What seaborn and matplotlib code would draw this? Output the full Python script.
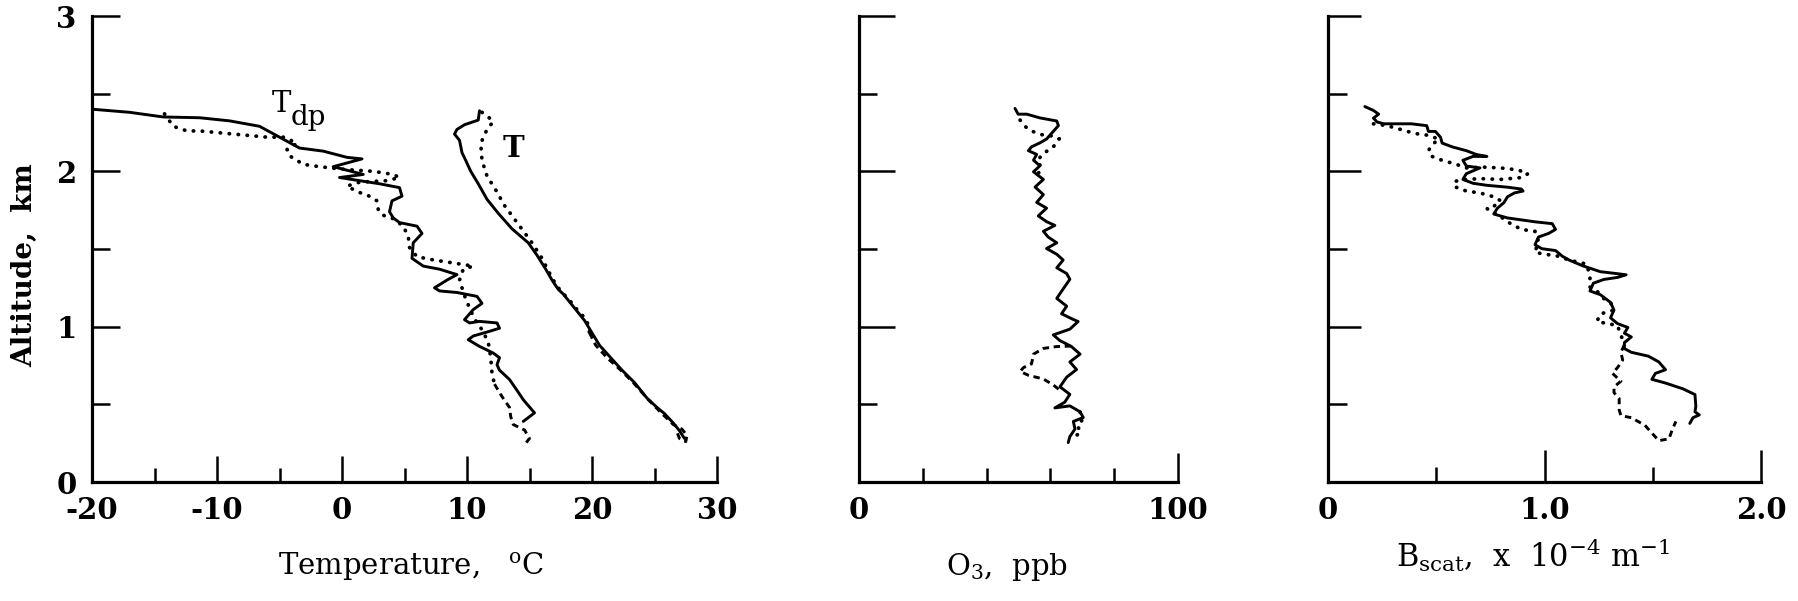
import numpy as np
import pandas as pd
import matplotlib
matplotlib.use("Agg")
import matplotlib.pyplot as plt
import seaborn as sns

# ---------------- data ----------------
# Panel 1: temperature profiles (value, altitude km)
t_solid_val = [11.0, 10.9, 9.8, 9.2, 9.0, 9.4, 9.6, 9.9, 10.3, 10.9, 11.6, 12.5, 13.6, 14.9, 15.6,
               16.3, 16.8, 17.3, 17.7, 18.2, 18.8, 19.4, 20.0, 20.6, 21.5, 22.4, 23.4, 24.4, 25.2,
               25.8, 26.5, 27.0, 27.4]
t_solid_alt = [2.39, 2.33, 2.30, 2.27, 2.24, 2.20, 2.12, 2.07, 2.00, 1.92, 1.82, 1.73, 1.63, 1.54, 1.46,
               1.37, 1.30, 1.24, 1.21, 1.16, 1.10, 1.04, 0.96, 0.88, 0.80, 0.72, 0.64, 0.54, 0.48,
               0.44, 0.38, 0.33, 0.28]
t_dot_val = [11.2, 11.7, 12.1, 11.6, 11.1, 11.2, 11.6, 12.3, 13.0, 14.1, 15.2, 16.0, 16.5, 16.9,
             17.4, 18.3, 18.9, 19.5, 19.7, 19.8]
t_dot_alt = [2.38, 2.35, 2.32, 2.27, 2.18, 2.07, 1.97, 1.88, 1.78, 1.66, 1.54, 1.44, 1.36, 1.30,
             1.24, 1.16, 1.10, 1.05, 1.01, 0.96]
t_dash_val = [19.8, 20.3, 21.2, 22.3, 23.3, 24.5, 25.6, 26.5, 27.2, 27.6, 27.5, 27.0, 26.8]
t_dash_alt = [0.96, 0.88, 0.80, 0.72, 0.64, 0.53, 0.44, 0.37, 0.34, 0.30, 0.26, 0.28, 0.32]

tdp_solid_val = [-20.0, -17.0, -14.3, -11.4, -9.0, -6.6, -5.0, -3.4, -1.5, 0.4, 1.6, -0.7, 1.7, -0.2,
                 1.4, 3.0, 4.6, 4.8, 4.0, 3.8, 4.1, 4.6, 6.0, 6.4, 5.7, 5.6, 6.5, 7.8, 9.2, 8.4, 7.4,
                 7.8, 9.2, 10.8, 11.2, 10.5, 9.8, 10.2, 11.0, 12.4, 12.6, 11.8, 10.5, 10.1, 11.0,
                 12.1, 12.6, 12.4, 12.6, 13.4, 14.0, 14.5, 15.4, 14.5]
tdp_solid_alt = [2.40, 2.38, 2.35, 2.345, 2.325, 2.29, 2.22, 2.15, 2.13, 2.09, 2.08, 2.03, 1.98, 1.96,
                 1.94, 1.92, 1.895, 1.84, 1.81, 1.74, 1.70, 1.67, 1.647, 1.60, 1.54, 1.44, 1.39,
                 1.37, 1.335, 1.30, 1.25, 1.23, 1.22, 1.195, 1.15, 1.11, 1.045, 1.024, 1.034,
                 1.024, 0.99, 0.97, 0.94, 0.916, 0.873, 0.83, 0.80, 0.755, 0.72, 0.66, 0.59, 0.53,
                 0.445, 0.39]
tdp_dot_val = [-14.2, -13.5, -12.4, -11.4, -8.7, -6.0, -4.6, -3.6, -4.4, -4.2, -3.1, -1.8, -0.7, 0.6,
               2.5, 4.1, 4.6, 3.6, 1.4, 0.4, 1.2, 2.2, 2.8, 2.9, 3.2, 4.1, 4.9, 5.3, 5.4, 6.0, 7.3,
               8.9, 10.5, 9.7, 9.4, 9.8, 10.2, 10.6, 11.2, 11.7, 11.9, 12.0, 12.2]
tdp_dot_alt = [2.37, 2.29, 2.26, 2.26, 2.24, 2.22, 2.22, 2.18, 2.14, 2.10, 2.045, 2.03, 2.02, 2.01,
               2.00, 1.98, 1.96, 1.94, 1.93, 1.905, 1.87, 1.84, 1.81, 1.755, 1.72, 1.695, 1.647,
               1.58, 1.51, 1.45, 1.43, 1.41, 1.39, 1.37, 1.30, 1.20, 1.12, 1.05, 0.98, 0.90, 0.80,
               0.70, 0.63]
tdp_dash_val = [12.2, 12.8, 13.4, 13.5, 13.7, 14.6, 15.0, 14.5]
tdp_dash_alt = [0.63, 0.55, 0.48, 0.42, 0.37, 0.335, 0.28, 0.23]

# Panel 2: ozone (ppb, altitude km)
o3_solid_val = [48.9, 49.9, 52.6, 56.7, 62.0, 62.5, 60.9, 58.8, 56.7, 54.1, 53.1, 55.7, 54.7, 56.7,
                54.7, 57.8, 55.2, 57.8, 55.7, 58.8, 56.2, 58.8, 61.4, 57.8, 59.3, 62.0, 58.8, 62.0,
                64.0, 62.0, 65.1, 66.1, 64.0, 62.0, 65.1, 63.5, 67.2, 68.7, 66.1, 60.9, 63.0, 66.6,
                69.3, 66.1, 68.2, 65.1, 63.0, 66.1, 64.5, 61.4, 66.1, 69.3, 70.3, 67.2, 67.7, 66.1,
                65.6]
o3_solid_alt = [2.405, 2.368, 2.368, 2.344, 2.324, 2.294, 2.257, 2.208, 2.183, 2.158, 2.133, 2.109,
                2.072, 2.035, 1.997, 1.948, 1.899, 1.850, 1.800, 1.763, 1.713, 1.676, 1.652, 1.614,
                1.577, 1.540, 1.503, 1.466, 1.429, 1.379, 1.342, 1.305, 1.243, 1.182, 1.132, 1.083,
                1.046, 1.033, 0.984, 0.947, 0.910, 0.872, 0.823, 0.773, 0.724, 0.675, 0.613, 0.564,
                0.514, 0.477, 0.49, 0.452, 0.415, 0.390, 0.341, 0.292, 0.254]
o3_dot_val = [50.5, 52.0, 54.0, 57.5, 60.0, 62.8, 61.0, 57.5, 56.0, 57.2, 56.0]
o3_dot_alt = [2.33, 2.29, 2.26, 2.235, 2.23, 2.21, 2.16, 2.11, 2.07, 2.02, 1.98]
o3_dash_val = [66.5, 62.0, 57.8, 54.7, 54.1, 51.6, 50.5, 53.1, 57.8, 60.9, 63.0]
o3_dash_alt = [0.875, 0.872, 0.86, 0.823, 0.761, 0.737, 0.712, 0.687, 0.663, 0.625, 0.59]
o3_dot2_val = [69.3, 70.0, 68.5, 69.5, 67.5]
o3_dot2_alt = [0.45, 0.40, 0.36, 0.32, 0.29]

# Panel 3: scattering coefficient (x 1e-4 m^-1, altitude km)
b_solid_val = [0.170, 0.210, 0.234, 0.210, 0.226, 0.258, 0.321, 0.385, 0.456, 0.464, 0.496, 0.520,
               0.527, 0.575, 0.639, 0.686, 0.734, 0.670, 0.623, 0.639, 0.702, 0.639, 0.623, 0.670,
               0.734, 0.829, 0.893, 0.901, 0.861, 0.829, 0.813, 0.782, 0.766, 0.829, 0.956, 1.036,
               1.051, 1.020, 0.972, 0.956, 0.988, 1.051, 1.083, 1.115, 1.178, 1.258, 1.337, 1.377,
               1.337, 1.274, 1.226, 1.210, 1.258, 1.305, 1.321, 1.305, 1.337, 1.385, 1.369, 1.401,
               1.369, 1.369, 1.401, 1.480, 1.528, 1.559, 1.512, 1.496, 1.559, 1.639, 1.695, 1.699,
               1.695, 1.715, 1.686, 1.671]
b_solid_alt = [2.417, 2.392, 2.368, 2.343, 2.318, 2.306, 2.306, 2.306, 2.294, 2.257, 2.257, 2.219,
               2.182, 2.157, 2.133, 2.108, 2.096, 2.096, 2.071, 2.034, 2.022, 1.985, 1.948, 1.923,
               1.910, 1.898, 1.886, 1.873, 1.861, 1.836, 1.799, 1.762, 1.725, 1.700, 1.675, 1.663,
               1.626, 1.601, 1.577, 1.527, 1.502, 1.490, 1.453, 1.428, 1.391, 1.354, 1.341, 1.334,
               1.317, 1.304, 1.280, 1.230, 1.206, 1.156, 1.107, 1.057, 1.020, 0.995, 0.958, 0.934,
               0.897, 0.859, 0.835, 0.810, 0.773, 0.723, 0.699, 0.661, 0.637, 0.600, 0.563, 0.488,
               0.452, 0.432, 0.414, 0.377]
b_dot_val = [0.210, 0.273, 0.337, 0.400, 0.464, 0.511, 0.480, 0.464, 0.480, 0.527, 0.591, 0.639,
             0.718, 0.797, 0.877, 0.924, 0.893, 0.797, 0.702, 0.639, 0.583, 0.591, 0.639, 0.702,
             0.766, 0.797, 0.766, 0.734, 0.750, 0.782, 0.829, 0.893, 0.956, 0.972, 0.956, 1.004,
             1.067, 1.115, 1.194, 1.210, 1.210, 1.242, 1.274, 1.305, 1.321, 1.258, 1.242, 1.290,
             1.337, 1.369]
b_dot_alt = [2.306, 2.294, 2.269, 2.244, 2.232, 2.207, 2.170, 2.133, 2.096, 2.071, 2.046, 2.022,
             2.027, 2.022, 2.009, 1.985, 1.960, 1.948, 1.953, 1.948, 1.935, 1.898, 1.873, 1.861,
             1.836, 1.811, 1.775, 1.762, 1.737, 1.725, 1.675, 1.626, 1.614, 1.552, 1.478, 1.466,
             1.453, 1.428, 1.403, 1.329, 1.255, 1.230, 1.181, 1.156, 1.107, 1.082, 1.033, 1.020,
             1.008, 0.884]
b_dash_val = [1.369, 1.353, 1.361, 1.337, 1.314, 1.353, 1.321, 1.321, 1.345, 1.345, 1.353, 1.401,
              1.464, 1.496, 1.528, 1.575, 1.591, 1.607]
b_dash_alt = [0.884, 0.835, 0.785, 0.736, 0.699, 0.649, 0.612, 0.575, 0.538, 0.464, 0.427, 0.414,
              0.365, 0.315, 0.266, 0.278, 0.340, 0.390]

temp_ticks = [-20, -10, 0, 10, 20, 30]
o3_ticks = [0, 100]
b_ticks = [0, 1.0, 2.0]
b_tick_labels = ["0", "1.0", "2.0"]
alt_ticks = [0, 1, 2, 3]

# ---------------- style ----------------
sns.set_style("ticks")
plt.rcParams["font.family"] = ["DejaVu Serif"]
plt.rcParams["mathtext.fontset"] = "dejavuserif"
for k in ("text.color", "axes.labelcolor", "xtick.color", "ytick.color", "axes.edgecolor"):
    plt.rcParams[k] = "black"

W, H = 1799, 601
fig = plt.figure(figsize=(W / 100, H / 100), dpi=100)
fig.patch.set_facecolor("white")

def fx(px):
    return px / W

def fy(py):
    return (H - py) / H

top_px, bot_px = 16, 482
panels = [(92, 717), (859, 1178), (1328, 1761)]
axes = []
for (l, r) in panels:
    ax = fig.add_axes([fx(l), fy(bot_px), fx(r) - fx(l), fy(top_px) - fy(bot_px)])
    ax.set_facecolor("white")
    axes.append(ax)

DOT = dict(linestyle=(0, (0.1, 2.3)), linewidth=2.7, dash_capstyle="round")
DASH = dict(linestyle=(0, (2.2, 1.6)), linewidth=2.1)
SOLID = dict(linestyle="-", linewidth=2.1)

def line(ax, x, y, st):
    df = pd.DataFrame({"v": x, "alt": y})
    sns.lineplot(data=df, x="v", y="alt", ax=ax, sort=False, estimator=None,
                 color="black", legend=False, **st)

ax1, ax2, ax3 = axes
line(ax1, t_solid_val, t_solid_alt, SOLID)
line(ax1, t_dot_val, t_dot_alt, DOT)
line(ax1, t_dash_val, t_dash_alt, DASH)
line(ax1, tdp_solid_val, tdp_solid_alt, SOLID)
line(ax1, tdp_dot_val, tdp_dot_alt, DOT)
line(ax1, tdp_dash_val, tdp_dash_alt, DASH)

line(ax2, o3_solid_val, o3_solid_alt, SOLID)
line(ax2, o3_dot_val, o3_dot_alt, DOT)
line(ax2, o3_dash_val, o3_dash_alt, DASH)
line(ax2, o3_dot2_val, o3_dot2_alt, DOT)

line(ax3, b_solid_val, b_solid_alt, SOLID)
line(ax3, b_dot_val, b_dot_alt, DOT)
line(ax3, b_dash_val, b_dash_alt, DASH)

tick_font = dict(fontsize=21, fontweight="bold", family="DejaVu Serif", color="black")
LABEL_FS = 21

for ax in axes:
    sns.despine(ax=ax)
    for s in ("left", "bottom"):
        ax.spines[s].set_linewidth(2.3)
        ax.spines[s].set_color("black")
    ax.set_ylim(0, 3)
    ax.set_yticks(alt_ticks)
    ax.set_yticks([0.5, 1.5, 2.5], minor=True)
    ax.set_xlabel("")
    ax.set_ylabel("")

# panel 1
ax1.set_xlim(-20, 30)
ax1.set_xticks(temp_ticks)
ax1.set_xticks([-15, -5, 5, 15, 25], minor=True)
ax1.set_xticklabels([str(t) for t in temp_ticks], **tick_font)
ax1.set_yticklabels([str(t) for t in alt_ticks], **tick_font)
ax1.tick_params(axis="x", which="major", direction="in", length=19, width=1.8, pad=10)
ax1.tick_params(axis="x", which="minor", direction="in", length=10, width=1.8)
ax1.tick_params(axis="y", which="major", direction="in", length=20, width=1.8, pad=11)
ax1.tick_params(axis="y", which="minor", direction="in", length=13, width=1.8)

# panel 2
ax2.set_xlim(0, 100)
ax2.set_xticks(o3_ticks)
ax2.set_xticks([20, 40, 60, 80], minor=True)
ax2.set_xticklabels([str(t) for t in o3_ticks], **tick_font)
ax2.tick_params(axis="x", which="major", direction="in", length=21, width=1.8, pad=10)
ax2.tick_params(axis="x", which="minor", direction="in", length=10, width=1.8)
ax2.tick_params(axis="y", which="major", direction="in", length=26, width=1.8, labelleft=False)
ax2.tick_params(axis="y", which="minor", direction="in", length=13, width=1.8)

# panel 3
ax3.set_xlim(0, 2.0)
ax3.set_xticks(b_ticks)
ax3.set_xticks([0.5, 1.5], minor=True)
ax3.set_xticklabels(b_tick_labels, **tick_font)
ax3.tick_params(axis="x", which="major", direction="in", length=23, width=1.8, pad=10)
ax3.tick_params(axis="x", which="minor", direction="in", length=11, width=1.8)
ax3.tick_params(axis="y", which="major", direction="in", length=24, width=1.8, labelleft=False)
ax3.tick_params(axis="y", which="minor", direction="in", length=14, width=1.8)

# axis labels
ax1.set_ylabel("Altitude,  km", fontsize=20, fontweight="bold")
ax1.yaxis.set_label_coords(-0.107, 0.466)
ax1.yaxis.label.set_va("center")

ax1.set_xlabel("Temperature,   $^{\\mathrm{o}}$C", fontsize=LABEL_FS)
ax1.xaxis.set_label_coords(0.51, -0.20)
ax1.xaxis.label.set_va("baseline")

ax2.set_xlabel("O$_3$,  ppb", fontsize=LABEL_FS)
ax2.xaxis.set_label_coords(0.464, -0.20)
ax2.xaxis.label.set_va("baseline")

ax3.set_xlabel("B$_{\\mathrm{scat}}$,  x  10$^{-4}$ m$^{-1}$", fontsize=22)
ax3.xaxis.set_label_coords(0.473, -0.182)
ax3.xaxis.label.set_va("baseline")

# curve annotations
ax1.text(-5.6, 2.38, "T", fontsize=21, ha="left", va="baseline")
ax1.text(-4.1, 2.30, "dp", fontsize=20, ha="left", va="baseline")
ax1.text(13.7, 2.15, "T", fontsize=21, fontweight="bold", ha="center", va="center")

fig.savefig("out.png", dpi=100, facecolor="white")
